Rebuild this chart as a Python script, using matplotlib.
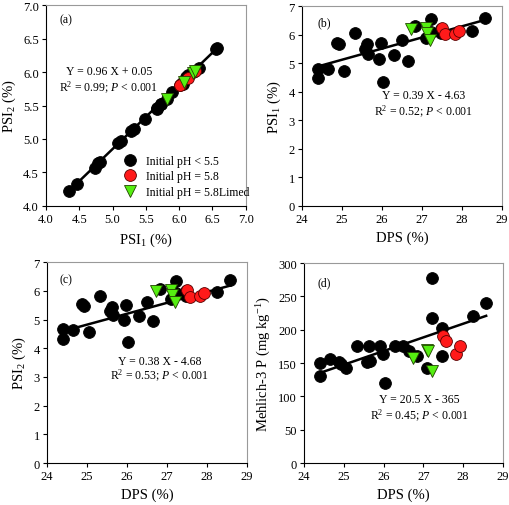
import matplotlib
matplotlib.use("Agg")
import matplotlib.pyplot as plt
import numpy as np
from matplotlib.ticker import FormatStrFormatter

plt.rcParams["font.family"] = ["Liberation Serif", "DejaVu Serif"]
plt.rcParams["mathtext.fontset"] = "custom"
plt.rcParams["mathtext.rm"] = "Liberation Serif"
plt.rcParams["mathtext.it"] = "Liberation Serif:italic"

# --- data: initial pH < 5.5 ---
dps_low = [24.40, 24.40, 24.66, 25.05, 24.88, 24.93, 25.33, 25.58, 25.64, 25.66,
           25.92, 25.98, 26.03, 26.30, 26.50, 26.65, 26.84, 27.10, 27.22, 27.22,
           27.47, 27.47, 28.26, 28.58]
psi1_low = [4.81, 4.47, 4.78, 4.73, 5.72, 5.66, 6.04, 5.48, 5.66, 5.32,
            5.13, 5.72, 4.35, 5.27, 5.81, 5.08, 6.30, 5.89, 6.56, 6.10,
            6.20, 6.05, 6.13, 6.57]
psi2_low = [4.66, 4.33, 4.64, 4.57, 5.53, 5.46, 5.83, 5.30, 5.45, 5.15,
            4.97, 5.52, 4.22, 5.12, 5.60, 4.94, 6.06, 5.70, 6.34, 5.92,
            6.00, 5.82, 5.96, 6.36]
m3p_low = [150, 131, 156, 143, 151, 148, 175, 152, 175, 153,
           175, 163, 120, 175, 175, 168, 160, 142, 278, 217,
           203, 160, 221, 240]

# --- initial pH = 5.8 ---
dps_58 = [27.50, 27.57, 27.83, 27.92]
psi1_58 = [6.24, 6.01, 6.01, 6.13]
psi2_58 = [6.02, 5.80, 5.81, 5.91]
m3p_58 = [191, 183, 163, 176]

# --- initial pH = 5.8 limed ---
dps_lim = [26.73, 27.10, 27.12, 27.21]
psi1_lim = [6.21, 6.24, 6.07, 5.81]
psi2_lim = [5.99, 6.02, 5.85, 5.60]
m3p_lim = [157, 170, 168, 138]

# regression coefficients (slope, intercept) as printed
fit_a = (0.96, 0.05)
fit_b = (0.39, -4.63)
fit_c = (0.38, -4.68)
fit_d = (20.5, -365)

labels = ["Initial pH < 5.5", "Initial pH = 5.8", "Initial pH = 5.8Limed"]

fig = plt.figure(figsize=(5.10, 5.06), dpi=100)
ax_a = fig.add_axes([0.090, 0.591, 0.392, 0.397])
ax_b = fig.add_axes([0.592, 0.591, 0.392, 0.395])
ax_c = fig.add_axes([0.092, 0.083, 0.392, 0.397])
ax_d = fig.add_axes([0.596, 0.083, 0.390, 0.395])

ms = 8.5
fs_tick = 9
fs_lab = 10.5
fs_txt = 8.5


def scatter3(ax, x1, y1, x2, y2, x3, y3):
    h1, = ax.plot(x1, y1, "o", ms=ms, mfc="black", mec="black", mew=0.6, zorder=3)
    h2, = ax.plot(x2, y2, "o", ms=ms, mfc="#ff1a1a", mec="#550000", mew=0.6, zorder=4)
    h3, = ax.plot(x3, y3, "v", ms=ms, mfc="#55ee11", mec="#224400", mew=0.6, zorder=5)
    return h1, h2, h3


def fitline(ax, fit, xs):
    xx = np.array([min(xs), max(xs)])
    ax.plot(xx, fit[0] * xx + fit[1], color="black", lw=1.8, zorder=2)


def style(ax):
    ax.tick_params(direction="out", length=3, width=0.8, labelsize=fs_tick,
                   top=False, right=False, pad=2)
    for s in ("top", "right"):
        ax.spines[s].set_color("#999999")
    for s in ("left", "bottom"):
        ax.spines[s].set_linewidth(0.8)


# (a)
h = scatter3(ax_a, psi1_low, psi2_low, psi1_58, psi2_58, psi1_lim, psi2_lim)
fitline(ax_a, fit_a, psi1_low + psi1_58 + psi1_lim)
ax_a.set_xlim(4.0, 7.0)
ax_a.set_ylim(4.0, 7.0)
ax_a.set_xticks(np.arange(4.0, 7.01, 0.5))
ax_a.set_yticks(np.arange(4.0, 7.01, 0.5))
ax_a.xaxis.set_major_formatter(FormatStrFormatter("%.1f"))
ax_a.yaxis.set_major_formatter(FormatStrFormatter("%.1f"))
ax_a.set_xlabel("PSI$_1$ (%)", fontsize=fs_lab)
ax_a.set_ylabel("PSI$_2$ (%)", fontsize=fs_lab)
ax_a.text(0.07, 0.93, "(a)", transform=ax_a.transAxes, fontsize=fs_txt, va="center")
ax_a.text(0.315, 0.67, "Y = 0.96 X + 0.05", transform=ax_a.transAxes,
          fontsize=fs_txt, ha="center", va="center")
ax_a.text(0.315, 0.59, "R$^2$ = 0.99; $P$ < 0.001", transform=ax_a.transAxes,
          fontsize=fs_txt, ha="center", va="center")
ax_a.legend(h, labels, loc="lower left", bbox_to_anchor=(0.34, 0.005),
            frameon=False, fontsize=fs_txt, handletextpad=0.5, labelspacing=0.3,
            borderaxespad=0.2, handlelength=1.6)
style(ax_a)

# (b)
scatter3(ax_b, dps_low, psi1_low, dps_58, psi1_58, dps_lim, psi1_lim)
fitline(ax_b, fit_b, dps_low + dps_58 + dps_lim)
ax_b.set_xlim(24, 29)
ax_b.set_ylim(0, 7)
ax_b.set_xlabel("DPS (%)", fontsize=fs_lab)
ax_b.set_ylabel("PSI$_1$ (%)", fontsize=fs_lab)
ax_b.text(0.08, 0.92, "(b)", transform=ax_b.transAxes, fontsize=fs_txt, va="center")
ax_b.text(0.61, 0.555, "Y = 0.39 X - 4.63", transform=ax_b.transAxes,
          fontsize=fs_txt, ha="center", va="center")
ax_b.text(0.61, 0.475, "R$^2$ = 0.52; $P$ < 0.001", transform=ax_b.transAxes,
          fontsize=fs_txt, ha="center", va="center")
style(ax_b)

# (c)
scatter3(ax_c, dps_low, psi2_low, dps_58, psi2_58, dps_lim, psi2_lim)
fitline(ax_c, fit_c, dps_low + dps_58 + dps_lim)
ax_c.set_xlim(24, 29)
ax_c.set_ylim(0, 7)
ax_c.set_xlabel("DPS (%)", fontsize=fs_lab)
ax_c.set_ylabel("PSI$_2$ (%)", fontsize=fs_lab)
ax_c.text(0.065, 0.915, "(c)", transform=ax_c.transAxes, fontsize=fs_txt, va="center")
ax_c.text(0.565, 0.51, "Y = 0.38 X - 4.68", transform=ax_c.transAxes,
          fontsize=fs_txt, ha="center", va="center")
ax_c.text(0.565, 0.44, "R$^2$ = 0.53; $P$ < 0.001", transform=ax_c.transAxes,
          fontsize=fs_txt, ha="center", va="center")
style(ax_c)

# (d)
scatter3(ax_d, dps_low, m3p_low, dps_58, m3p_58, dps_lim, m3p_lim)
fitline(ax_d, fit_d, dps_low + dps_58 + dps_lim)
ax_d.set_xlim(24, 29)
ax_d.set_ylim(0, 300)
ax_d.set_yticks(np.arange(0, 301, 50))
ax_d.set_xlabel("DPS (%)", fontsize=fs_lab)
ax_d.set_ylabel("Mehlich-3 P (mg kg$^{-1}$)", fontsize=fs_lab)
ax_d.text(0.07, 0.905, "(d)", transform=ax_d.transAxes, fontsize=fs_txt, va="center")
ax_d.text(0.58, 0.32, "Y = 20.5 X - 365", transform=ax_d.transAxes,
          fontsize=fs_txt, ha="center", va="center")
ax_d.text(0.58, 0.24, "R$^2$ = 0.45; $P$ < 0.001", transform=ax_d.transAxes,
          fontsize=fs_txt, ha="center", va="center")
style(ax_d)

fig.savefig("out.png", dpi=100)
